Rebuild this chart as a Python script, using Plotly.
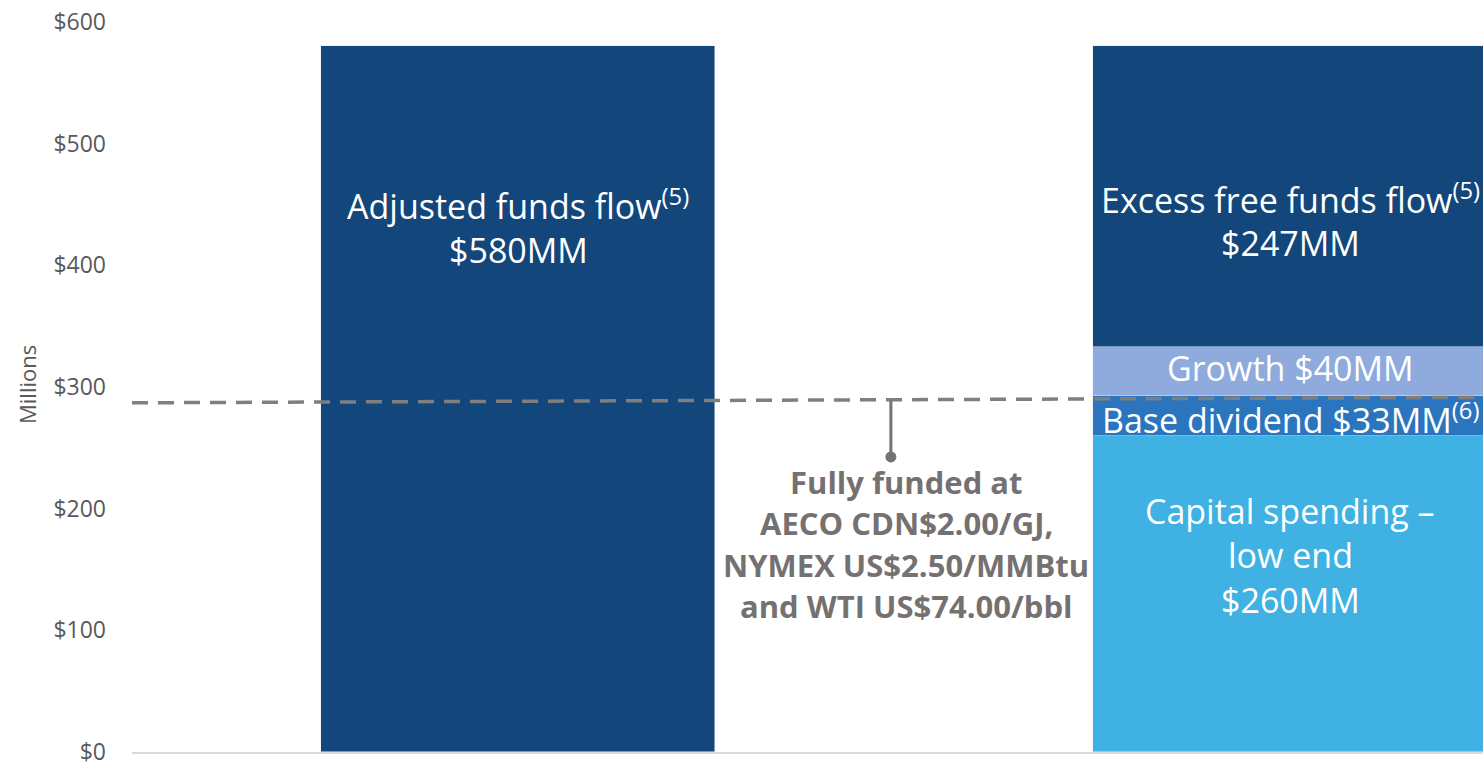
import plotly.graph_objects as go

# ---- data ----
categories = [0, 1]
afff_value = [580]
capital_low = [260]
base_dividend = [33]
growth = [40]
excess_fff = [247]
breakeven_left = 287
breakeven_right = 291.5
y_ticks = [0, 100, 200, 300, 400, 500, 600]
y_tick_labels = ["$0", "$100", "$200", "$300", "$400", "$500", "$600"]

NAVY = "#13467A"
LIGHT = "#3FB1E2"
MID = "#2A75BE"
PERI = "#8FAADC"
GRAY = "#767171"
DASH = "#7F7F7F"
BAR_W = 0.511

fig = go.Figure()
fig.add_bar(x=[categories[0]], y=afff_value, marker_color=NAVY, width=BAR_W, hoverinfo="skip")
fig.add_bar(x=[categories[1]], y=capital_low, marker_color=LIGHT, width=BAR_W, hoverinfo="skip")
fig.add_bar(x=[categories[1]], y=base_dividend, marker_color=MID, width=BAR_W, hoverinfo="skip")
fig.add_bar(x=[categories[1]], y=growth, marker_color=PERI, width=BAR_W, hoverinfo="skip")
fig.add_bar(x=[categories[1]], y=excess_fff, marker_color=NAVY, width=BAR_W, hoverinfo="skip")

# dashed breakeven line
fig.add_shape(type="line", xref="x", yref="y", x0=-0.5, x1=1.25,
              y0=breakeven_left, y1=breakeven_right,
              line=dict(color=DASH, width=3.5, dash="16px,10px"), layer="above")

# connector with dot
CX = 0.483
fig.add_shape(type="line", xref="x", yref="y", x0=CX, x1=CX, y0=289, y1=243,
              line=dict(color=GRAY, width=3), layer="above")
fig.add_trace(go.Scatter(x=[CX], y=[242.5], mode="markers",
                         marker=dict(color=GRAY, size=11), hoverinfo="skip",
                         showlegend=False, cliponaxis=False))

WF = "Open Sans"
def label(x, y, txt, size=34, color="white", bold=False):
    if bold:
        txt = "<b>" + txt + "</b>"
    fig.add_annotation(x=x, y=y, xref="x", yref="y", text=txt, showarrow=False,
                       font=dict(family=WF, size=size, color=color),
                       xanchor="center", yanchor="middle")

label(0, 449.6, "Adjusted funds flow<sup>(5)</sup>")
label(0, 412.6, "$580MM")
label(1, 455.3, "Excess free funds flow<sup>(5)</sup>")
label(1, 418.4, "$247MM")
label(1, 315.6, "Growth $40MM")
label(1, 274.5, "Base dividend $33MM<sup>(6)</sup>")
label(1, 198.1, "Capital spending –")
label(1, 161.9, "low end")
label(1, 124.9, "$260MM")

NX = 0.5026
label(NX, 221.9, "Fully funded at", size=31, color=GRAY, bold=True)
label(NX, 188.2, "AECO CDN$2.00/GJ,", size=31, color=GRAY, bold=True)
label(NX, 153.7, "NYMEX US$2.50/MMBtu", size=31, color=GRAY, bold=True)
label(NX, 120.0, "and WTI US$74.00/bbl", size=31, color=GRAY, bold=True)

fig.add_annotation(xref="paper", yref="paper", x=(27 - 132) / 1351, y=(752 - 385) / 730,
                   text="Millions", textangle=-90, showarrow=False,
                   font=dict(family=WF, size=22, color="#595959"),
                   xanchor="center", yanchor="middle")

fig.update_layout(
    width=1483, height=763,
    margin=dict(l=132, r=0, t=22, b=11),
    barmode="stack", bargap=0, showlegend=False,
    plot_bgcolor="white", paper_bgcolor="white",
    xaxis=dict(range=[-0.5, 1.25], showticklabels=False, ticks="", showgrid=False,
               zeroline=False, showline=True, linecolor="#D9D9D9", linewidth=2,
               automargin=False),
    yaxis=dict(range=[0, 600], tickvals=y_ticks, ticktext=y_tick_labels,
               showgrid=False, zeroline=False, showline=False, ticks="",
               ticklabelstandoff=25, ticklabeloverflow="allow", automargin=False,
               tickfont=dict(family=WF, size=23, color="#595959")),
)

fig.write_html("out.html", config={"displayModeBar": False},
               post_script="document.body.style.margin='0px';document.body.style.overflow='hidden';")
